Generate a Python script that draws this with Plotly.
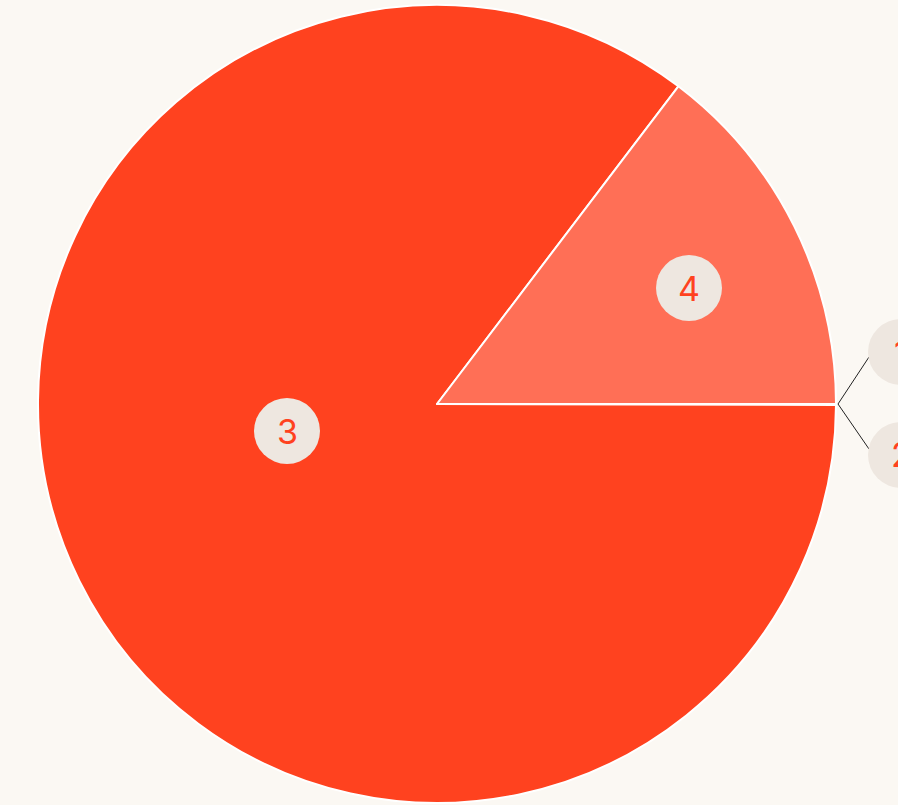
import plotly.graph_objects as go

labels = ["1", "2", "3", "4"]
values = [0.02, 0.02, 85.3, 14.66]
colors = ["#FF421F", "#FF421F", "#FF421F", "#FF6F56"]

W, H = 898, 805
BG = "#FBF8F3"
LABEL_BG = "#EEE7E0"
TEXT_RED = "#FF421F"

cx, cy, R = 437, 404, 399

fig = go.Figure(go.Pie(
    labels=labels,
    values=values,
    sort=False,
    direction="clockwise",
    rotation=90,
    marker=dict(colors=colors, line=dict(color="white", width=2)),
    textinfo="none",
    hoverinfo="skip",
    showlegend=False,
    domain=dict(x=[(cx - R) / W, (cx + R) / W], y=[(H - cy - R) / H, (H - cy + R) / H]),
))

# label circle centres (pixels)
label_pos = {"1": (901, 352), "2": (901, 455), "3": (287, 431), "4": (689, 288)}
rad = 33
shapes = []
annotations = []
edge = (838, 404)
for k, end in (("1", (869, 357)), ("2", (869, 449))):
    shapes.append(dict(type="line", xref="paper", yref="paper",
                       x0=edge[0] / W, y0=1 - edge[1] / H, x1=end[0] / W, y1=1 - end[1] / H,
                       line=dict(color="#222222", width=1)))
for lab in labels:
    px, py = label_pos[lab]
    shapes.append(dict(type="circle", xref="paper", yref="paper",
                       xsizemode="pixel", ysizemode="pixel",
                       xanchor=px / W, yanchor=1 - py / H,
                       x0=-rad, x1=rad, y0=-rad, y1=rad,
                       fillcolor=LABEL_BG, line=dict(width=0)))
    annotations.append(dict(x=px / W, y=1 - py / H, xref="paper", yref="paper",
                            text=lab, showarrow=False, xanchor="center", yanchor="middle",
                            font=dict(family="Inter", size=34, color=TEXT_RED)))

fig.update_layout(
    width=W, height=H,
    margin=dict(l=0, r=0, t=0, b=0),
    paper_bgcolor=BG, plot_bgcolor=BG,
    shapes=shapes, annotations=annotations,
)
fig.write_html(
    "out.html",
    config={"displayModeBar": False},
    post_script="document.body.style.margin='0';document.body.style.overflow='hidden';document.body.style.background='%s';" % BG,
)
